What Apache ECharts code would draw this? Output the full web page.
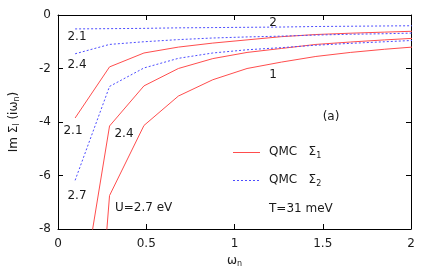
<!DOCTYPE html>
<html>
<head>
<meta charset="utf-8">
<script src="https://cdn.jsdelivr.net/npm/echarts@6/dist/echarts.min.js"></script>
<style>html,body{margin:0;padding:0;background:#fff;}#c{width:436px;height:273px;}</style>
</head>
<body>
<div id="c"></div>
<script>
// Matsubara frequencies (x values)
var omega = [0.097, 0.292, 0.487, 0.682, 0.877, 1.071, 1.266, 1.461, 1.656, 1.851, 2.046];
// Sigma_1 (red, solid) for U = 2.1, 2.4, 2.7
var sig1_U21 = [-3.85, -1.94, -1.42, -1.20, -1.05, -0.93, -0.81, -0.73, -0.68, -0.64, -0.60];
var sig1_U24 = [-12.0, -4.15, -2.65, -2.00, -1.63, -1.40, -1.25, -1.10, -1.01, -0.93, -0.86];
var sig1_U27 = [-23.0, -6.75, -4.13, -3.03, -2.42, -2.00, -1.76, -1.55, -1.40, -1.28, -1.18];
// Sigma_2 (blue, dotted) for U = 2.1, 2.4, 2.7
var sig2_U21 = [-0.52, -0.51, -0.50, -0.48, -0.47, -0.46, -0.45, -0.43, -0.42, -0.41, -0.40];
var sig2_U24 = [-1.45, -1.10, -1.00, -0.92, -0.86, -0.82, -0.79, -0.75, -0.72, -0.70, -0.67];
var sig2_U27 = [-6.18, -2.67, -1.98, -1.62, -1.42, -1.30, -1.22, -1.13, -1.06, -1.00, -0.94];

var xTicks = [0, 0.5, 1, 1.5, 2];
var yTicks = [0, -2, -4, -6, -8];

var RED = '#ff4d4d';
var BLUE = '#4d4dff';
var FONT = 'DejaVu Sans';
var TXT = '#1a1a1a';

function pairs(ys) { return omega.map(function (x, i) { return [x, ys[i]]; }); }

function mk(name, ys, color, dotted) {
  return {
    name: name, type: 'line', data: pairs(ys), showSymbol: false, symbol: 'none',
    clip: true, animation: false, silent: true,
    lineStyle: { color: color, width: 1, type: dotted ? [2, 2] : 'solid' },
    xAxisIndex: 0, yAxisIndex: 0
  };
}

var chart = echarts.init(document.getElementById('c'), null, { renderer: 'canvas' });

function axisCommon() {
  return {
    axisLine: { show: true, onZero: false, lineStyle: { color: '#000', width: 1 } },
    axisTick: { show: true, inside: true, length: 5, lineStyle: { color: '#000', width: 1 } },
    splitLine: { show: false }
  };
}

var option = {
  animation: false,
  backgroundColor: '#fff',
  grid: { left: 55, right: 25, top: 15, bottom: 38, show: false },
  xAxis: [
    Object.assign({
      type: 'value', min: 0, max: 2, interval: 0.5, position: 'bottom',
      axisLabel: { color: TXT, fontFamily: FONT, fontSize: 12, margin: 9,
        formatter: function (v) { return xTicks.indexOf(v) >= 0 ? String(v) : ''; } },
      name: '{w|ω}{s|n}', nameLocation: 'middle', nameGap: 25,
      nameTextStyle: { rich: { w: { fontFamily: FONT, fontSize: 12, color: TXT }, s: { fontFamily: FONT, fontSize: 8, color: TXT, verticalAlign: 'bottom', padding: [6, 0, 0, 0] } } }
    }, axisCommon()),
    Object.assign({
      type: 'value', min: 0, max: 2, interval: 0.5, position: 'top',
      axisLabel: { show: false }
    }, axisCommon())
  ],
  yAxis: [
    Object.assign({
      type: 'value', min: -8, max: 0, interval: 2, position: 'left',
      axisLabel: { color: TXT, fontFamily: FONT, fontSize: 12, margin: 7,
        formatter: function (v) { return yTicks.indexOf(v) >= 0 ? String(v) : ''; } },
      name: '{a|Im Σ}{s|l}{a| (iω}{s|n}{a|)}', nameLocation: 'middle', nameGap: 37, nameRotate: 90,
      nameTextStyle: { rich: { a: { fontFamily: FONT, fontSize: 12, color: TXT }, s: { fontFamily: FONT, fontSize: 8, color: TXT, padding: [6, 0, 0, 0] } } }
    }, axisCommon()),
    Object.assign({
      type: 'value', min: -8, max: 0, interval: 2, position: 'right',
      axisLabel: { show: false }
    }, axisCommon())
  ],
  series: [
    mk('QMC Σ1 U=2.1', sig1_U21, RED, false),
    mk('QMC Σ1 U=2.4', sig1_U24, RED, false),
    mk('QMC Σ1 U=2.7', sig1_U27, RED, false),
    mk('QMC Σ2 U=2.1', sig2_U21, BLUE, true),
    mk('QMC Σ2 U=2.4', sig2_U24, BLUE, true),
    mk('QMC Σ2 U=2.7', sig2_U27, BLUE, true)
  ],
  graphic: []
};

function txt(s, x, y, align) {
  return { type: 'text', x: x, y: y, silent: true,
    style: { text: s, fill: TXT, font: '12px "' + FONT + '"', align: align || 'center', verticalAlign: 'middle' } };
}
var subRich = {
  a: { fontFamily: FONT, fontSize: 12, fill: TXT },
  s: { fontFamily: FONT, fontSize: 8, fill: TXT, padding: [7, 0, 0, 0] }
};
function richTxt(s, x, y) {
  return { type: 'text', x: x, y: y, silent: true,
    style: { text: s, rich: subRich, fill: TXT, align: 'left', verticalAlign: 'middle' } };
}

option.graphic = [
  txt('2.1', 77, 37), txt('2.4', 77, 65), txt('2.1', 73, 131), txt('2.4', 124, 134),
  txt('2.7', 77, 196), txt('2', 273, 23), txt('1', 273, 75), txt('(a)', 331, 117),
  txt('U=2.7 eV', 115, 208, 'left'), txt('T=31 meV', 269, 209, 'left'),
  { type: 'line', silent: true, shape: { x1: 233, y1: 152.5, x2: 260, y2: 152.5 }, style: { stroke: RED, lineWidth: 1 } },
  { type: 'line', silent: true, shape: { x1: 233, y1: 180.5, x2: 260, y2: 180.5 }, style: { stroke: BLUE, lineWidth: 1, lineDash: [2, 2] } },
  richTxt('{a|QMC   Σ}{s|1}', 269, 152),
  richTxt('{a|QMC   Σ}{s|2}', 269, 180)
];

chart.setOption(option);
</script>
</body>
</html>
